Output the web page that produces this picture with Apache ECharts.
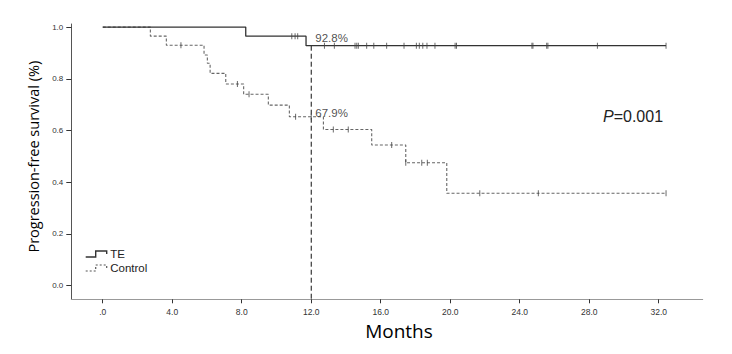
<!DOCTYPE html>
<html><head><meta charset="utf-8">
<script src="https://cdn.jsdelivr.net/npm/echarts@6/dist/echarts.min.js"></script>
<style>html,body{margin:0;padding:0;background:#fff}#c{width:732px;height:354px}</style>
</head><body><div id="c"></div>
<script>
// Kaplan-Meier step points (month of event, survival after event)
const teTimes = [0, 8.23, 11.7, 32.42];
const teSurv = [1.0, 0.965, 0.928, 0.928];
const ctrlTimes = [0, 2.74, 3.66, 5.83, 6.02, 6.18, 7.08, 8.11, 9.53, 10.74, 12.7, 15.48, 17.44, 19.8, 32.42];
const ctrlSurv = [1.0, 0.965, 0.930, 0.892, 0.860, 0.821, 0.780, 0.740, 0.698, 0.653, 0.604, 0.544, 0.475, 0.357, 0.357];
// Censored observations (months)
const teCensorTimes = [10.88, 11.07, 11.22, 12.76, 13.33, 14.52, 14.62, 14.71, 15.19, 15.6, 16.34, 17.34, 18.05, 18.22, 18.42, 18.66, 19.12, 20.28, 20.36, 24.7, 24.76, 25.55, 25.62, 28.47, 32.42];
const ctrlCensorTimes = [4.5, 7.75, 8.42, 11.1, 12.0, 13.27, 14.13, 16.63, 17.44, 18.36, 18.68, 21.7, 25.07, 32.42];
// Axis ticks and labels
const xTicks = [0, 4, 8, 12, 16, 20, 24, 28, 32];
const xTickLabels = ['.0', '4.0', '8.0', '12.0', '16.0', '20.0', '24.0', '28.0', '32.0'];
const yTicks = [0, 0.2, 0.4, 0.6, 0.8, 1.0];
const yTickLabels = ['0.0', '0.2', '0.4', '0.6', '0.8', '1.0'];
// Landmark annotation
const landmarkMonth = 12;
const landmarkLabels = ['92.8%', '67.9%'];
const pValueText = '=0.001';

const X_MIN = -1.81, X_MAX = 34.53, Y_MIN = -0.053, Y_MAX = 1.012;

function survAt(times, surv, t) {
  let s = surv[0];
  for (let i = 0; i < times.length; i++) { if (times[i] <= t) s = surv[i]; }
  return s;
}
const pairs = (xs, ys) => xs.map((x, i) => [x, ys[i]]);
const teAt12 = survAt(teTimes, teSurv, landmarkMonth);
const ctrlAt12 = survAt(ctrlTimes, ctrlSurv, landmarkMonth);

const chart = echarts.init(document.getElementById('c'), null, {renderer: 'svg'});
chart.setOption({
  animation: false,
  backgroundColor: '#fff',
  grid: {left: 71.3, right: 29.3, top: 24, bottom: 54.7, outerBoundsMode: 'none'},
  legend: {
    left: 85, top: 248, orient: 'vertical', selectedMode: false, padding: 0,
    itemWidth: 22, itemHeight: 6, itemGap: 2,
    textStyle: {fontSize: 11.5, fontFamily: 'Liberation Sans', color: '#222', padding: [0, 0, 0, -2]},
    data: [
      {name: 'TE', icon: 'path://M0,6L10,6L10,0L21,0L21,3',
       itemStyle: {color: 'transparent', borderColor: '#333', borderWidth: 1.4}},
      {name: 'Control', icon: 'path://M0,6L10,6L10,0L21,0L21,3',
       itemStyle: {color: 'transparent', borderColor: '#555', borderWidth: 1.2, borderType: [2, 2]}}
    ]
  },
  xAxis: {
    type: 'value', min: X_MIN, max: X_MAX,
    axisLine: {onZero: false, lineStyle: {color: '#999', width: 1}},
    axisTick: {customValues: xTicks, length: 4, lineStyle: {color: '#333'}},
    axisLabel: {customValues: xTicks, formatter: v => xTickLabels[xTicks.indexOf(v)] ?? '',
      fontSize: 8.5, color: '#333', margin: 8, fontFamily: 'Liberation Sans'},
    splitLine: {show: false},
    name: 'Months', nameLocation: 'middle', nameGap: 20,
    nameTextStyle: {fontSize: 19, fontFamily: 'Open Sans', color: '#000', padding: [0, 0, 0, 24]}
  },
  yAxis: {
    type: 'value', min: Y_MIN, max: Y_MAX,
    axisLine: {show: true, onZero: false, lineStyle: {color: '#555', width: 1}},
    axisTick: {show: true, customValues: yTicks, length: 5, lineStyle: {color: '#333'}},
    axisLabel: {customValues: yTicks, formatter: v => yTickLabels[yTicks.findIndex(t => Math.abs(t - v) < 1e-6)] ?? '',
      fontSize: 8, color: '#333', margin: 8, fontFamily: 'Liberation Sans'},
    splitLine: {show: false},
    name: 'Progression-free survival (%)', nameLocation: 'middle', nameGap: 30,
    nameTextStyle: {fontSize: 14.5, fontFamily: 'Open Sans', color: '#000', padding: [0, 0, 0, 10]}
  },
  graphic: [{
    type: 'text', left: 603, top: 108,
    style: {
      text: '{i|P}{n|' + pValueText + '}',
      rich: {
        i: {fontSize: 16, fontStyle: 'italic', fontFamily: 'Liberation Sans', fill: '#222'},
        n: {fontSize: 16, fontFamily: 'Liberation Sans', fill: '#222'}
      }
    }
  }],
  series: [
    {name: 'TE', type: 'line', step: 'end', symbol: 'none', data: pairs(teTimes, teSurv),
     lineStyle: {color: '#333', width: 1.3}, itemStyle: {color: '#333'}, z: 3},
    {name: 'Control', type: 'line', step: 'end', symbol: 'none', data: pairs(ctrlTimes, ctrlSurv),
     lineStyle: {color: '#666', width: 1.1, type: [3, 2]}, itemStyle: {color: '#666'}, z: 2},
    {name: 'TE censored', type: 'scatter', symbol: 'rect', symbolSize: [1, 6], silent: true,
     data: teCensorTimes.map(t => [t, survAt(teTimes, teSurv, t)]), itemStyle: {color: '#444'}, z: 4},
    {name: 'Control censored', type: 'scatter', symbol: 'rect', symbolSize: [1, 6], silent: true,
     data: ctrlCensorTimes.map(t => [t, survAt(ctrlTimes, ctrlSurv, t)]), itemStyle: {color: '#444'}, z: 4},
    {name: 'Landmark', type: 'line', symbol: 'none', silent: true,
     data: [[landmarkMonth, teAt12], [landmarkMonth, Y_MIN]],
     lineStyle: {color: '#111', width: 1, type: [5, 3]}, z: 1},
    {name: 'Landmark labels', type: 'scatter', symbolSize: 0, silent: true,
     data: [
       {value: [landmarkMonth, teAt12], label: {position: [4, -8]}},
       {value: [landmarkMonth, ctrlAt12], label: {position: [4, -4]}}
     ],
     label: {show: true, formatter: p => landmarkLabels[p.dataIndex], align: 'left', verticalAlign: 'middle',
       fontSize: 11.5, fontFamily: 'Liberation Sans', color: '#222'}, z: 5}
  ]
});
</script></body></html>
